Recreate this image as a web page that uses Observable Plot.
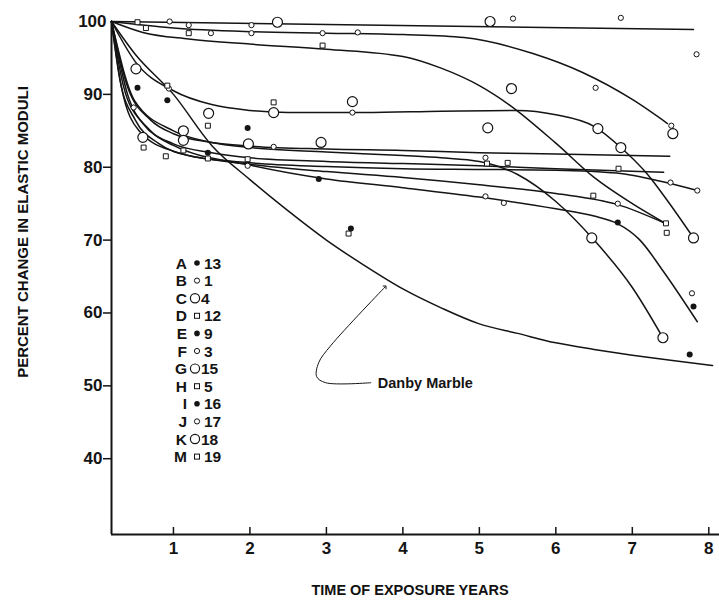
<!DOCTYPE html>
<html>
<head>
<meta charset="utf-8">
<script src="https://cdn.jsdelivr.net/npm/d3@7"></script>
<script src="https://cdn.jsdelivr.net/npm/@observablehq/plot@0.6"></script>
<style>
  html, body { margin: 0; padding: 0; background: #fff; }
  #wrap { position: relative; width: 719px; height: 602px; overflow: hidden; }
  #wrap svg.plot { position: absolute; left: 0; top: 0; }
  .ttl { position: absolute; font-family: "Liberation Sans", Arial, sans-serif; font-weight: bold; color: #111; white-space: nowrap; }
  #xttl { left: 410px; top: 582px; transform: translateX(-50%); font-size: 14.5px; }
  #yttl { left: 22px; top: 232px; transform: translate(-50%, -50%) rotate(-90deg); font-size: 15px; }
  #legend { position: absolute; left: 0; top: 0; }
</style>
</head>
<body>
<div id="wrap">
  <div id="xttl" class="ttl">TIME OF EXPOSURE YEARS</div>
  <div id="yttl" class="ttl">PERCENT CHANGE IN ELASTIC MODULI</div>
</div>
<script>
// ---------- axes ----------
const xDomain = [0.19, 8.14];
const yDomain = [29.6, 100];
const xTicks = [1, 2, 3, 4, 5, 6, 7, 8];
const yTicks = [40, 50, 60, 70, 80, 90];
const yTopTick = [100];

// ---------- fitted curves [years, percent] ----------
const curveFlat = [[0.19,100],[7.8,98.9]];
const curveSlow = [[0.19,100],[1,99.1],[2,98.6],[3,98.4],[4,98.2],[4.8,97.8],[5.7,95.6],[6.35,93],[7,89.3],[7.46,86]];
const curveLate = [[0.19,100],[0.6,98.5],[1.2,97.6],[2,96.9],[3,96.2],[4,95.2],[4.5,93.6],[5,91.2],[5.4,88.5],[6,83.3],[6.5,78.6],[7,75],[7.45,72.2]];
const curvePlateau = [[0.19,100],[0.5,94.5],[1,90.5],[1.5,88.6],[2,87.8],[2.5,87.5],[3.5,87.5],[4.5,87.7],[5.5,87.8],[6,87.2],[6.5,85.6],[6.85,82.7],[7.2,79],[7.46,75.4],[7.8,70.3]];
const curveB1 = [[0.19,100],[0.4,91],[0.7,86.5],[1,84.6],[1.5,83.4],[2,82.9],[3,82.5],[4,82.3],[5,82],[6,81.8],[7.49,81.5]];
const curveB2 = [[0.19,100],[0.35,91],[0.6,86],[1,83.2],[1.5,82],[2,81.3],[3,80.8],[4,80.5],[5,80.2],[6,79.8],[7.41,79.3]];
const curveB3 = [[0.19,100],[0.3,92],[0.5,86.5],[0.8,83.3],[1.2,81.6],[2,80.6],[3,80.1],[4,79.8],[5,79.7],[6,79.6],[6.8,79.2],[7.4,78],[7.85,76.8]];
const curveB4 = [[0.19,100],[0.32,91],[0.55,85],[1,82.2],[2,80.4],[3,79.4],[4,78.6],[5,77.6],[6,76.4],[6.8,74.9],[7.45,72.2]];
const curveB5 = [[0.19,100],[0.4,90],[0.7,85],[1,83],[2,80.3],[3,78.4],[4,77.2],[5,75.9],[6,74.3],[6.5,73.3],[6.8,72.3],[7.1,70],[7.4,65.8],[7.85,58.8]];
const curveBend = [[0.19,100],[0.5,89],[1,85],[1.5,83.4],[2,82.7],[3,82.1],[4,81.6],[4.5,81.3],[5,80.8],[5.5,79],[6,75.3],[6.5,70],[7,63.5],[7.4,56.6]];
const curveDanby = [[0.19,100],[0.5,95.5],[1,90],[1.5,83],[2,78.3],[2.5,74],[3,70],[3.5,66.5],[4,63.3],[4.5,60.7],[5,58.5],[5.5,57.2],[6,55.9],[6.5,55],[7,54.2],[7.5,53.5],[8.05,52.8]];

// ---------- measured points [years, percent] ----------
const filledDots = [[0.53,90.9],[0.92,89.2],[1.45,82.0],[1.97,85.4],[2.90,78.4],[3.32,71.6],[6.81,72.4],[7.80,60.9],[7.75,54.3]];
const bigCircles = [[0.51,93.5],[0.60,84.1],[1.13,85.0],[1.13,83.7],[1.46,87.4],[1.98,83.2],[2.31,87.5],[2.93,83.4],[3.34,89.0],[2.36,99.9],[5.14,100],[5.42,90.8],[6.55,85.3],[6.85,82.7],[5.11,85.4],[7.53,84.6],[6.47,70.3],[7.80,70.3],[7.40,56.6]];
const smallCircles = [[0.95,100],[1.20,99.5],[1.49,98.4],[2.02,99.5],[2.02,98.4],[2.95,98.4],[3.41,98.5],[5.44,100.4],[6.85,100.5],[7.84,95.5],[6.52,90.9],[7.51,85.7],[0.48,88.2],[0.94,90.8],[2.31,82.8],[3.34,87.5],[1.97,80.2],[5.08,81.3],[7.50,77.9],[7.85,76.8],[5.08,76.0],[5.32,75.1],[6.81,75.0],[7.78,62.7]];
const squares = [[0.53,99.9],[0.64,99.1],[1.20,98.4],[2.95,96.7],[0.92,91.2],[0.61,82.7],[0.90,81.5],[1.13,82.3],[1.45,85.7],[1.45,81.2],[1.97,81.1],[2.31,88.9],[3.29,70.9],[5.10,80.5],[5.37,80.6],[6.82,79.8],[6.49,76.1],[7.44,72.3],[7.45,71.0]];

// ---------- legend ----------
const legendLetters = ["A","B","C","D","E","F","G","H","I","J","K","M"];
const legendMarks = ["dot","ring","big","square","dot","ring","big","square","dot","ring","big","square"];
const legendNumbers = ["13","1","4","12","9","3","15","5","16","17","18","19"];

// ---------- annotation ----------
const danbyLabel = [{x: 3.62, y: 50.4, text: "Danby Marble"}];
const danbyLeader = [[3.58,50.43],[2.99,50.43],[2.873,51.26],[2.899,53.18],[3.056,55.51],[3.77,63.6]];

// ---------- build tables ----------
const curves = {curveFlat, curveSlow, curveLate, curvePlateau, curveB1, curveB2, curveB3, curveB4, curveB5, curveBend, curveDanby};
const lineRows = Object.entries(curves).flatMap(([id, pts]) => pts.map(([x, y]) => ({id, x, y})));
const toRows = pts => pts.map(([x, y]) => ({x, y}));
const leaderRows = toRows(danbyLeader);

const ink = "#141414";
const font = '"Liberation Sans", Arial, sans-serif';

const chart = Plot.plot({
  width: 719,
  height: 602,
  marginLeft: 111,
  marginRight: 0,
  marginTop: 21,
  marginBottom: 68,
  x: {domain: xDomain, label: null},
  y: {domain: yDomain, label: null},
  style: {fontFamily: font, fontWeight: "bold", fontSize: "17px", color: ink, background: "white", overflow: "visible"},
  marks: [
    // axis lines
    Plot.ruleX([xDomain[0]], {y1: yDomain[0], y2: yDomain[1], stroke: ink, strokeWidth: 2}),
    Plot.ruleY([yDomain[0]], {x1: xDomain[0], x2: xDomain[1], stroke: ink, strokeWidth: 2}),
    // y axis
    Plot.axisY(yTicks, {anchor: "left", label: null, tickSize: 8, tickPadding: 1, stroke: ink, strokeWidth: 1.5, fontSize: 17, fill: ink}),
    Plot.axisY(yTopTick, {anchor: "left", label: null, tickSize: 0, tickPadding: 5, fontSize: 17, fill: ink}),
    // x axis: inward ticks, then labels
    Plot.axisX(xTicks, {anchor: "bottom", label: null, tickSize: 7, dy: -7, tickFormat: () => "", stroke: ink, strokeWidth: 1.5}),
    Plot.axisX(xTicks, {anchor: "bottom", label: null, tickSize: 0, tickPadding: 7, fontSize: 17, fill: ink}),
    // curves
    Plot.line(lineRows, {x: "x", y: "y", z: "id", curve: "monotone-x", stroke: ink, strokeWidth: 1.5}),
    // leader + label
    Plot.line(leaderRows, {x: "x", y: "y", curve: "catmull-rom", stroke: ink, strokeWidth: 1, markerEnd: "arrow"}),
    Plot.text(danbyLabel, {x: "x", y: "y", text: "text", textAnchor: "start", dx: 4, fontSize: 14.5, fill: ink}),
    // points
    Plot.dot(toRows(smallCircles), {x: "x", y: "y", r: 2.6, stroke: ink, strokeWidth: 1, fill: "white"}),
    Plot.dot(toRows(bigCircles), {x: "x", y: "y", r: 5, stroke: ink, strokeWidth: 1.2, fill: "white"}),
    Plot.dot(toRows(squares), {x: "x", y: "y", r: 2.8, symbol: "square", stroke: ink, strokeWidth: 1, fill: "white"}),
    Plot.dot(toRows(filledDots), {x: "x", y: "y", r: 3, fill: ink, stroke: "none"})
  ]
});
chart.classList.add("plot");
const wrap = document.getElementById("wrap");
wrap.insertBefore(chart, wrap.firstChild);

// legend overlay (drawn with d3 from the legend arrays)
const leg = d3.select(wrap).append("svg").attr("id", "legend").attr("width", 719).attr("height", 602);
const rowY = i => 263 + i * 17.6;
const g = leg.selectAll("g").data(legendLetters).join("g").attr("transform", (d, i) => `translate(0,${rowY(i)})`);
g.append("text").attr("x", 187).attr("y", 0).attr("dy", "0.36em").attr("text-anchor", "end")
  .attr("font-family", font).attr("font-weight", "bold").attr("font-size", 15.5).attr("fill", ink).text(d => d);
g.each(function(d, i) {
  const s = d3.select(this), m = legendMarks[i];
  if (m === "dot") s.append("circle").attr("cx", 197).attr("r", 2.8).attr("fill", ink);
  else if (m === "ring") s.append("circle").attr("cx", 197).attr("r", 2.6).attr("fill", "white").attr("stroke", ink).attr("stroke-width", 1);
  else if (m === "big") s.append("circle").attr("cx", 195).attr("r", 4.6).attr("fill", "white").attr("stroke", ink).attr("stroke-width", 1.2);
  else s.append("rect").attr("x", 194.5).attr("y", -2.5).attr("width", 5).attr("height", 5).attr("fill", "white").attr("stroke", ink).attr("stroke-width", 1);
});
g.append("text").attr("x", (d, i) => legendMarks[i] === "big" ? 201 : 204).attr("y", 0).attr("dy", "0.36em")
  .attr("font-family", font).attr("font-weight", "bold").attr("font-size", 15.5).attr("fill", ink).text((d, i) => legendNumbers[i]);
</script>
</body>
</html>
